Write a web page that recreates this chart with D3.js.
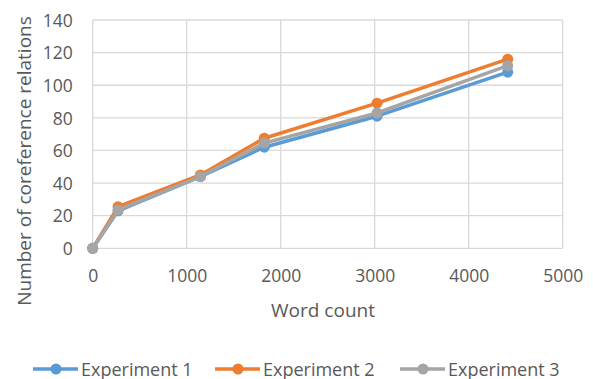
<!DOCTYPE html>
<html><head><meta charset="utf-8">
<script src="https://cdn.jsdelivr.net/npm/d3@7"></script>
<style>html,body{margin:0;padding:0;background:#fff;}svg{display:block;}</style>
</head><body>
<svg id="c" width="593" height="379"></svg>
<script>
const wordCounts = [0, 270, 1145, 1825, 3025, 4415];
const experiment1 = [0, 23, 44, 62, 81, 108];
const experiment2 = [0, 25.5, 45, 67.5, 89, 116];
const experiment3 = [0, 23.5, 44, 64.5, 83, 112];
const seriesNames = ["Experiment 1", "Experiment 2", "Experiment 3"];
const seriesColors = ["#5B9BD5", "#ED7D31", "#A5A5A5"];
const xTicks = [0, 1000, 2000, 3000, 4000, 5000];
const yTicks = [0, 20, 40, 60, 80, 100, 120, 140];

const series = [experiment1, experiment2, experiment3];
const svg = d3.select("#c");
const font = "'Open Sans', sans-serif";
const textColor = "#595959";

const x = d3.scaleLinear().domain([0, 5000]).range([92.7, 562.7]);
const y = d3.scaleLinear().domain([0, 140]).range([248.3, 20]);

const grid = svg.append("g");
grid.selectAll("line.h").data(yTicks).join("line")
  .attr("x1", x(0)).attr("x2", x(5000))
  .attr("y1", d => y(d)).attr("y2", d => y(d))
  .attr("stroke", "#D9D9D9").attr("stroke-width", 1.3);
grid.selectAll("line.v").data(xTicks).join("line")
  .attr("y1", y(0)).attr("y2", y(140))
  .attr("x1", d => x(d)).attr("x2", d => x(d))
  .attr("stroke", "#D9D9D9").attr("stroke-width", 1.3);

const yAxis = svg.append("g").attr("transform", `translate(${x(0) - 20},0)`)
  .call(d3.axisLeft(y).tickValues(yTicks).tickFormat(d3.format("d")).tickSize(0).tickPadding(0));
yAxis.select(".domain").remove();
yAxis.selectAll("text").attr("font-family", font).attr("font-size", 17.5)
  .attr("fill", textColor).attr("dy", "0.36em");

const xAxis = svg.append("g").attr("transform", `translate(0,${y(0)})`)
  .call(d3.axisBottom(x).tickValues(xTicks).tickFormat(d3.format("d")).tickSize(0).tickPadding(0));
xAxis.select(".domain").remove();
xAxis.selectAll("text").attr("font-family", font).attr("font-size", 17.5)
  .attr("fill", textColor).attr("dy", null).attr("y", 33.5);

svg.append("text").attr("x", 323).attr("y", 316.5).attr("text-anchor", "middle")
  .attr("font-family", font).attr("font-size", 19).attr("fill", textColor)
  .text("Word count");
svg.append("text").attr("transform", "translate(31,161) rotate(-90)")
  .attr("text-anchor", "middle")
  .attr("font-family", font).attr("font-size", 19).attr("fill", textColor)
  .text("Number of coreference relations");

const line = d3.line().x((d, i) => x(wordCounts[i])).y(d => y(d));
series.forEach((s, k) => {
  const g = svg.append("g");
  g.append("path").datum(s).attr("d", line).attr("fill", "none")
    .attr("stroke", seriesColors[k]).attr("stroke-width", 3.5)
    .attr("stroke-linejoin", "round");
  g.selectAll("circle").data(s).join("circle")
    .attr("cx", (d, i) => x(wordCounts[i])).attr("cy", d => y(d))
    .attr("r", 5.5).attr("fill", seriesColors[k]);
});

const legendX = [33, 215, 400];
const lg = svg.append("g");
seriesNames.forEach((name, k) => {
  const lx = legendX[k];
  lg.append("line").attr("x1", lx).attr("x2", lx + 45).attr("y1", 369).attr("y2", 369)
    .attr("stroke", seriesColors[k]).attr("stroke-width", 3.5);
  lg.append("circle").attr("cx", lx + 23).attr("cy", 369).attr("r", 5.5).attr("fill", seriesColors[k]);
  lg.append("text").attr("x", lx + 48).attr("y", 375.5)
    .attr("font-family", font).attr("font-size", 18).attr("fill", textColor).text(name);
});
</script>
</body></html>
